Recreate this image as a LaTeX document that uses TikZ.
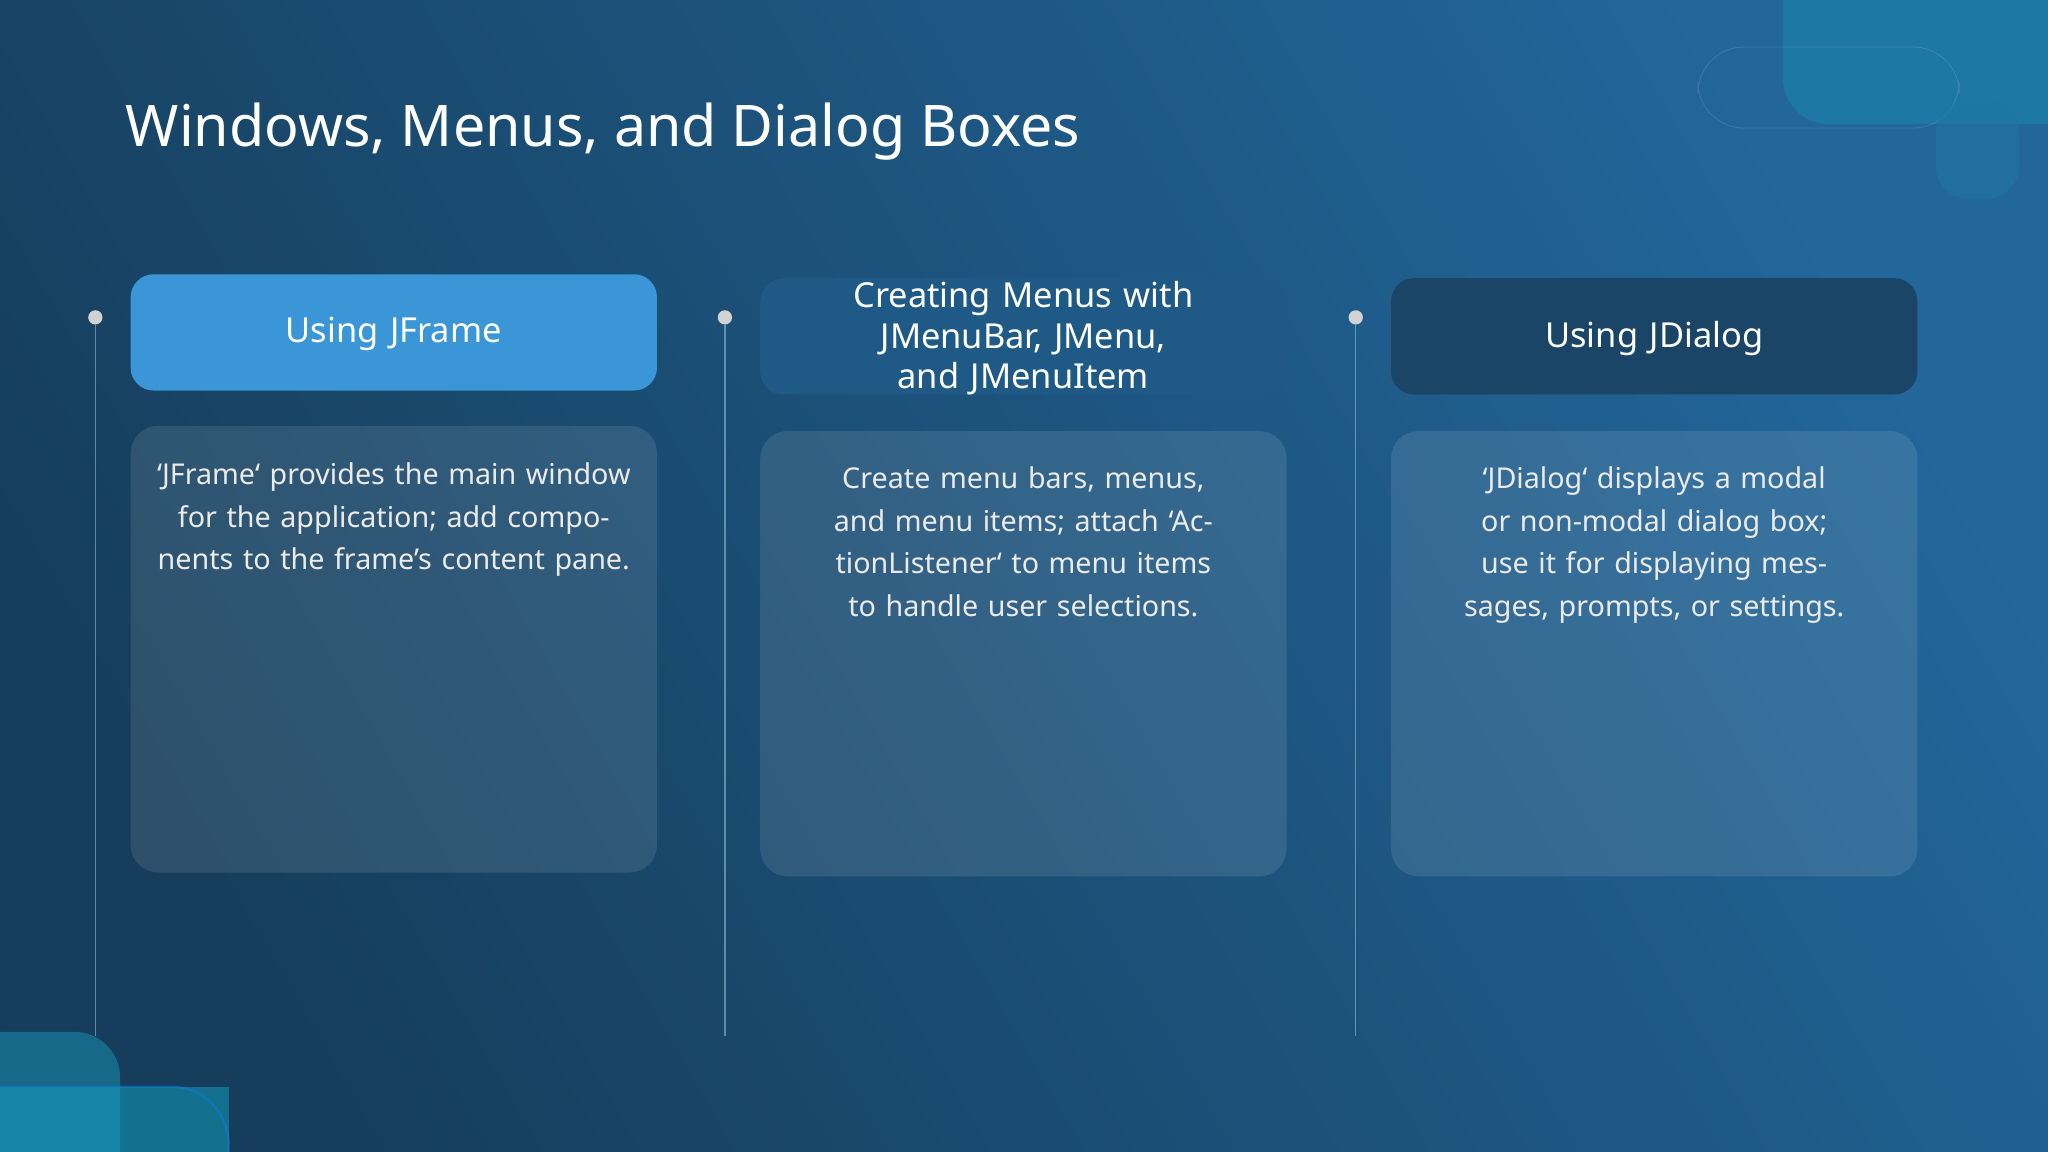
\documentclass[tikz,border=0pt]{standalone}
\usepackage{fontspec}
\setmainfont{Noto Sans}
\begin{document}
\begin{tikzpicture}[x=0.02cm,y=-0.02cm,
  hdrtxt/.style={text width=6.4cm,align=center,text=white,font=\fontsize{15}{17.6}\selectfont\bfseries},
  bodybox/.style={rounded corners=12pt,fill=white,fill opacity=0.1},
  bodytxt/.style={text width=7.4cm,align=center,text=white!92!black,font=\fontsize{12.5}{18.6}\selectfont},
  tl/.style={draw=white!70!cyan,opacity=0.45,line width=0.6pt},
  dot/.style={circle,fill=white!65!gray,inner sep=2.2pt}]
\definecolor{bgA}{HTML}{22669A}\definecolor{bgB}{HTML}{163E5C}
\definecolor{hA}{HTML}{3A96D6}\definecolor{hB}{HTML}{1E5A85}\definecolor{hC}{HTML}{1A4566}
\shade[left color=bgA,right color=bgB,shading angle=-60] (0,0) rectangle (1568,882);
\useasboundingbox (0,0) rectangle (1568,882);
% decorations
\fill[bgA!80!cyan,opacity=0.6,rounded corners=20pt] (1365,-30) rectangle (1600,95);
\draw[white,opacity=0.12,rounded corners=20pt] (1300,36) rectangle (1500,98);
\fill[bgA!90!cyan,opacity=0.6,rounded corners=14pt] (1482,77) rectangle (1546,152);
\fill[bgA!70!cyan,opacity=0.5,rounded corners=20pt] (-30,790) rectangle (92,920);
\fill[bgA!60!cyan,opacity=0.5] (0,832) rectangle (175,900);
\draw[cyan!60!blue,opacity=0.6,rounded corners=25pt,line width=1pt] (-10,832) -- (175,832) -- (175,900);
\node[anchor=west,text=white,font=\fontsize{25}{30}\selectfont\bfseries] (title) at (90,101) {Windows, Menus, and Dialog Boxes};
% timelines
\foreach \x/\n in {73/a,555/b,1038/c}{
  \node[dot] (d\n) at (\x,243) {};
  \coordinate (e\n) at (\x,793);
  \draw[tl] (d\n) -- (e\n);
}
% card 1
\fill[rounded corners=10pt,hA] (100,210) rectangle (503,299);
\node[hdrtxt] (h1) at (301.5,256) {Using JFrame};
\fill[bodybox] (100,326) rectangle (503,668);
\node[bodytxt,anchor=north] (b1) at (301.5,348) {`JFrame` provides the main window for the application; add components to the frame's content pane.};
% card 2
\fill[rounded corners=10pt,hB] (582,213) rectangle (985,302);
\node[hdrtxt] (h2) at (783.5,259) {Creating Menus with JMenuBar, JMenu, and JMenuItem};
\fill[bodybox] (582,330) rectangle (985,671);
\node[bodytxt,anchor=north] (b2) at (783.5,351) {Create menu bars, menus, and menu items; attach `ActionListener` to menu items to handle user selections.};
% card 3
\fill[rounded corners=10pt,hC] (1065,213) rectangle (1468,302);
\node[hdrtxt] (h3) at (1266.5,259) {Using JDialog};
\fill[bodybox] (1065,330) rectangle (1468,671);
\node[bodytxt,anchor=north] (b3) at (1266.5,351) {`JDialog` displays a modal or non-modal dialog box; use it for displaying messages, prompts, or settings.};
\end{tikzpicture}
\end{document}
